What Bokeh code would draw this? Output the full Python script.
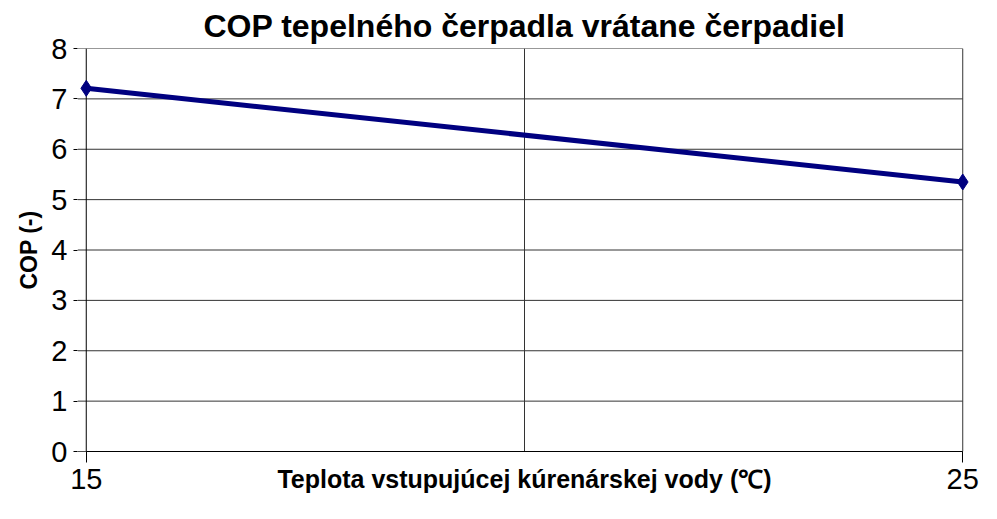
from bokeh.plotting import figure
from bokeh.models import FixedTicker, Range1d
from bokeh.embed import file_html
from bokeh.resources import INLINE

temps = [15, 25]
cop = [7.21, 5.35]
x_ticks = [15, 25]
x_grid = [20, 25]
y_ticks = [0, 1, 2, 3, 4, 5, 6, 7, 8]

FONT = "Liberation Sans"
X0, X1 = 15, 25
XPAD0, XPAD1 = 14.9, 25.1

p = figure(width=981, height=503, output_backend="svg", toolbar_location=None,
           x_range=Range1d(XPAD0, XPAD1), y_range=Range1d(0, 8),
           min_border_left=77, min_border_right=10, min_border_top=45, min_border_bottom=52)
p.outline_line_color = None
p.background_fill_color = "white"
p.border_fill_color = "white"

p.title.text = "COP tepelného čerpadla vrátane čerpadiel"
p.title.align = "center"
p.title.text_font = FONT
p.title.text_font_size = "32px"
p.title.text_font_style = "bold"
p.title.text_color = "black"
p.title.offset = 0

p.xaxis.ticker = FixedTicker(ticks=x_ticks)
p.yaxis.ticker = FixedTicker(ticks=y_ticks)
p.xaxis.bounds = (X0, X1)
for ax in (p.xaxis, p.yaxis):
    ax.axis_line_color = "black"
    ax.major_tick_line_color = "black"
    ax.minor_tick_line_color = None
    ax.major_tick_in = 0
    ax.major_label_text_font = FONT
    ax.major_label_text_font_size = "29px"
    ax.major_label_text_color = "black"
p.xaxis.major_tick_out = 11
p.yaxis.major_tick_out = 4
p.yaxis.axis_line_color = None
p.xaxis.major_label_standoff = 6
p.yaxis.major_label_standoff = 6
p.yaxis.axis_label = "COP (-)"
p.yaxis.axis_label_text_font = FONT
p.yaxis.axis_label_text_font_size = "23px"
p.yaxis.axis_label_text_font_style = "bold"
p.yaxis.axis_label_text_color = "black"
p.yaxis.axis_label_standoff = 6

p.xaxis.axis_label = "Teplota vstupujúcej kúrenárskej vody (℃)"
p.xaxis.axis_label_text_font = FONT
p.xaxis.axis_label_text_font_size = "25px"
p.xaxis.axis_label_text_font_style = "bold"
p.xaxis.axis_label_text_color = "black"
p.xaxis.axis_label_standoff = -27

p.xgrid.visible = False
p.ygrid.visible = False

# horizontal grid lines (starting at the frame edge so they continue the ticks)
p.segment(x0=[XPAD0] * len(y_ticks), x1=[X1] * len(y_ticks), y0=y_ticks, y1=y_ticks,
          line_color="#333333", line_width=1)
# vertical grid lines
p.segment(x0=x_grid, x1=x_grid, y0=[0] * len(x_grid), y1=[8] * len(x_grid),
          line_color="#333333", line_width=1)
# y axis line at x = 15
p.segment(x0=[X0], x1=[X0], y0=[0], y1=[8], line_color="black", line_width=1)
# x axis line over the 0 grid line
p.segment(x0=[XPAD0], x1=[X1], y0=[0], y1=[0], line_color="black", line_width=1)

p.line(temps, cop, line_color="#000080", line_width=5)
p.scatter(temps, cop, marker="diamond", size=16, fill_color="#000080", line_color="#000080")

open("out.html", "w").write(file_html(p, INLINE))
